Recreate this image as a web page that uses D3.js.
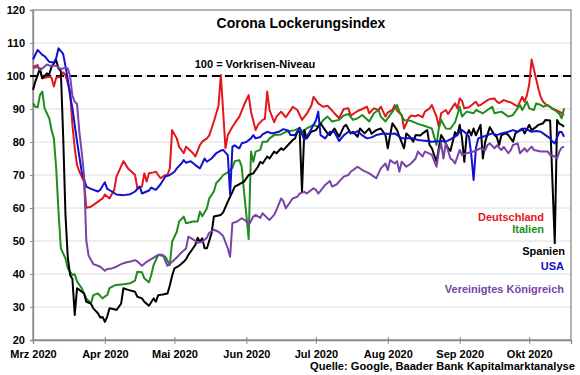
<!DOCTYPE html>
<html>
<head>
<meta charset="utf-8">
<script src="https://cdn.jsdelivr.net/npm/d3@7"></script>
<style>
body { margin: 0; background: #fff; }
svg { font-family: "Liberation Sans", Arial, sans-serif; font-weight: bold; }
</style>
</head>
<body>
<div id="main"></div>
<script>
// month labels shown under the x axis (one per month start)
const monthLabels = ["Mrz 2020", "Apr 2020", "Mai 2020", "Jun 2020", "Jul 2020", "Aug 2020", "Sep 2020", "Okt 2020"];
const yTicks = [20, 30, 40, 50, 60, 70, 80, 90, 100, 110, 120];
const preCrisisLevel = 100;

// daily index values (date "m/d" in 2020, value)
const deutschland = [["3/1",102.8],["3/3",103.3],["3/4",101.5],["3/5",99.3],["3/8",99.8],["3/9",99.5],["3/10",96.8],["3/11",99.5],["3/13",99.8],["3/14",101.1],["3/15",100.3],["3/17",95.3],["3/18",85.2],["3/19",78.1],["3/20",73],["3/21",71],["3/23",68],["3/24",60.1],["3/26",60.4],["3/28",61.4],["3/31",62.9],["4/1",64.1],["4/3",62.9],["4/5",65.5],["4/6",69.5],["4/9",74.2],["4/11",72],["4/14",70],["4/15",66],["4/17",66.5],["4/18",70.5],["4/19",68],["4/20",70.5],["4/22",70.8],["4/23",71],["4/25",69],["4/27",70],["4/28",70],["4/29",72],["4/30",83.6],["5/2",81.1],["5/3",78.6],["5/5",76.6],["5/6",78.6],["5/9",76.6],["5/10",75.6],["5/12",79.1],["5/13",80.1],["5/15",81.1],["5/16",82],["5/17",84.1],["5/18",86.2],["5/20",91],["5/21",100.3],["5/23",78.1],["5/24",82.1],["5/26",84.6],["5/27",85.7],["5/29",87.7],["5/31",91.2],["6/2",94.2],["6/3",89.2],["6/5",83.6],["6/6",85.2],["6/8",86.7],["6/9",87],["6/10",95.3],["6/11",89.7],["6/13",86],["6/14",87.7],["6/16",89.2],["6/18",87.5],["6/20",89.5],["6/21",90.7],["6/23",89.7],["6/25",86.7],["6/27",88.5],["6/29",91],["6/30",93.7],["7/2",91.7],["7/4",90.7],["7/6",91],["7/8",89.5],["7/9",88.7],["7/11",87.2],["7/13",90],["7/15",90.2],["7/16",88],["7/19",89.4],["7/21",90],["7/23",90.7],["7/24",88.7],["7/26",90.2],["7/28",89.7],["7/29",90.7],["7/31",87.7],["8/1",89],["8/3",89.7],["8/4",91.2],["8/5",89.5],["8/7",88.2],["8/8",84.1],["8/10",87.2],["8/11",88],["8/13",87.8],["8/14",88.2],["8/16",87.5],["8/17",89.2],["8/19",90.2],["8/20",91.2],["8/22",87.7],["8/23",84.6],["8/24",88.7],["8/26",89.7],["8/27",88.5],["8/29",90.7],["8/30",91.7],["8/31",90.2],["9/1",93.2],["9/2",92.5],["9/3",90.2],["9/5",90.5],["9/7",91.7],["9/8",92.2],["9/9",91],["9/10",91.2],["9/13",92.7],["9/14",93],["9/16",93.2],["9/17",92.2],["9/18",91.8],["9/20",92.7],["9/22",92.2],["9/23",92],["9/25",91.2],["9/26",90.7],["9/28",93.7],["9/29",92.2],["9/30",94.2],["10/1",97.5],["10/2",105],["10/3",102],["10/4",99],["10/5",96],["10/6",93.5],["10/7",92.2],["10/8",91.5],["10/9",91],["10/11",90.2],["10/13",89.5],["10/14",89.2],["10/16",88.2]];

const italien = [["3/1",91.7],["3/2",90.7],["3/3",90.5],["3/4",94.2],["3/5",95.3],["3/6",90.2],["3/8",87.2],["3/9",83.6],["3/10",81.1],["3/11",72],["3/12",58.9],["3/13",47.8],["3/15",44.7],["3/16",41.7],["3/18",39.7],["3/19",39.9],["3/20",37.7],["3/22",35.7],["3/24",32.6],["3/26",31.1],["3/27",33.6],["3/29",34.1],["3/31",32.6],["4/1",33.2],["4/2",33.6],["4/3",35.7],["4/5",36.5],["4/6",36.7],["4/9",36.9],["4/12",37.2],["4/14",38],["4/15",40.7],["4/17",40.5],["4/18",38.7],["4/20",37.5],["4/21",39.7],["4/22",42.7],["4/24",45.8],["4/27",45.3],["4/29",42.7],["4/30",49.8],["5/2",52.8],["5/3",55.9],["5/5",57.4],["5/6",55.4],["5/9",55.9],["5/11",55.9],["5/12",58.9],["5/13",57.5],["5/15",59.9],["5/16",62.9],["5/18",65],["5/19",67.5],["5/21",69],["5/22",70],["5/24",70.8],["5/26",72.2],["5/27",74.2],["5/29",74.5],["5/30",72.5],["5/31",65],["6/1",58],["6/2",50.6],["6/3",77.1],["6/4",74],["6/5",77.1],["6/7",77.6],["6/8",80.1],["6/10",80.1],["6/11",81.1],["6/13",82.1],["6/16",82.3],["6/18",83.1],["6/22",83.6],["6/24",84.3],["6/25",83],["6/27",84.1],["6/30",85.2],["7/2",84.6],["7/4",86.5],["7/6",87.7],["7/8",86.2],["7/11",86.7],["7/13",88],["7/15",88.5],["7/17",86.7],["7/19",87.2],["7/21",88.2],["7/24",86.2],["7/26",88.7],["7/28",89.7],["7/29",87.7],["7/31",86.2],["8/2",88.2],["8/3",89.2],["8/5",91.2],["8/6",89.2],["8/8",86.7],["8/11",86.4],["8/14",85.5],["8/18",84.6],["8/20",84.1],["8/22",79.1],["8/23",84.1],["8/24",86.7],["8/26",84.1],["8/28",84],["8/30",86],["8/31",88.2],["9/1",90.7],["9/2",87.7],["9/4",89.2],["9/7",88.7],["9/8",89.7],["9/11",88.7],["9/13",89.7],["9/15",90.7],["9/16",88.7],["9/19",89.2],["9/22",87.7],["9/24",88.2],["9/27",91.2],["9/28",89.7],["9/30",92.2],["10/1",90.2],["10/3",89.7],["10/4",91.7],["10/6",91.2],["10/7",90.7],["10/9",91.2],["10/11",90],["10/12",89.7],["10/14",88.5],["10/15",87.2],["10/16",90.2]];

const spanien = [["3/1",95.8],["3/2",98.3],["3/4",102.3],["3/5",99.3],["3/7",100.8],["3/8",100.5],["3/9",102.8],["3/11",104.8],["3/12",102.3],["3/13",101.5],["3/14",82],["3/15",58],["3/16",45],["3/17",39.7],["3/18",38.5],["3/19",27.6],["3/20",35.7],["3/21",35.2],["3/23",34.1],["3/24",31.6],["3/26",31],["3/27",29.6],["3/29",28.1],["3/30",26.8],["3/31",27],["4/1",25.5],["4/2",27.1],["4/3",29.6],["4/5",29.3],["4/6",29.1],["4/8",31],["4/9",35.7],["4/11",35.2],["4/14",34.6],["4/15",33.1],["4/17",32.6],["4/18",31.6],["4/20",30.4],["4/22",32.6],["4/23",31.6],["4/24",33.6],["4/26",33.8],["4/28",34.1],["4/29",36.5],["4/30",39.5],["5/1",41.7],["5/3",42.5],["5/5",43.7],["5/6",44.5],["5/7",45.8],["5/8",46.8],["5/9",47.8],["5/10",48.8],["5/11",51],["5/12",49.8],["5/13",50.8],["5/14",47.8],["5/15",47.8],["5/17",52.3],["5/18",57.4],["5/21",57.9],["5/22",58.7],["5/24",61.9],["5/26",64.9],["5/27",66.5],["5/29",67.2],["5/31",68],["6/2",70],["6/4",70.5],["6/6",72.5],["6/7",74],["6/8",73.5],["6/10",75.6],["6/11",75],["6/13",77.1],["6/14",76.6],["6/16",78.1],["6/17",77.6],["6/19",79.1],["6/21",80.6],["6/22",81.1],["6/23",83.1],["6/24",83.1],["6/25",65],["6/26",83.6],["6/27",81.1],["6/29",83.1],["7/1",83.6],["7/3",85.7],["7/4",84.6],["7/6",82.6],["7/7",82.1],["7/9",84.1],["7/11",81.6],["7/13",84.6],["7/14",85.2],["7/16",82.6],["7/17",83.1],["7/19",81.6],["7/20",84.1],["7/22",82.6],["7/24",84.1],["7/25",82.5],["7/27",83.6],["7/29",84.1],["7/31",82.1],["8/1",78.1],["8/2",82.1],["8/3",85.7],["8/5",83.6],["8/6",81.6],["8/8",78.1],["8/9",82.6],["8/10",82],["8/12",80.1],["8/13",82.1],["8/15",82],["8/16",82.6],["8/18",83.6],["8/19",79.1],["8/20",78.1],["8/22",74],["8/23",78.1],["8/24",82.1],["8/25",81],["8/27",78.1],["8/28",77.3],["8/30",83],["8/31",82],["9/1",85.2],["9/2",81.1],["9/3",74],["9/4",82.1],["9/5",83.6],["9/6",82],["9/7",84.1],["9/8",82],["9/10",85.2],["9/11",75],["9/12",80.1],["9/14",84.5],["9/16",82.1],["9/17",81.5],["9/18",79.1],["9/19",82.1],["9/21",82.6],["9/22",82.1],["9/24",80.1],["9/25",82.6],["9/26",83.1],["9/28",84.1],["9/29",82.6],["10/1",85.2],["10/2",83.6],["10/4",84.6],["10/5",85.2],["10/7",85.7],["10/8",86.7],["10/10",86.5],["10/12",49.3],["10/13",86.7],["10/14",85.5],["10/15",85.2],["10/16",84.6]];

const usa = [["3/1",105],["3/3",107.9],["3/5",106.4],["3/6",106],["3/8",104.3],["3/10",104],["3/11",105.4],["3/12",108.4],["3/14",106.7],["3/15",103],["3/16",99],["3/17",94],["3/18",90.2],["3/20",80.1],["3/22",71],["3/24",66.5],["3/26",65.8],["3/29",65],["3/30",65.5],["4/1",67.8],["4/2",65.8],["4/4",65],["4/6",64.1],["4/9",63.9],["4/12",64.2],["4/14",65],["4/16",66.5],["4/17",64.4],["4/20",65.3],["4/21",66.2],["4/23",65.5],["4/25",67.2],["4/27",69.5],["4/29",70],["5/1",71],["5/2",72],["5/4",73.5],["5/5",74.5],["5/6",73.7],["5/8",74.2],["5/10",73],["5/12",72],["5/14",75],["5/15",74],["5/17",75],["5/19",76.6],["5/21",77.4],["5/22",77.6],["5/24",76],["5/25",64.1],["5/26",78.6],["5/27",79],["5/28",78.4],["5/29",78.1],["5/30",79.6],["6/1",80],["6/3",81.1],["6/4",82.1],["6/5",81.1],["6/7",81.5],["6/8",82.3],["6/10",83.1],["6/12",82.6],["6/15",83.1],["6/17",83.9],["6/19",83.5],["6/20",82.1],["6/22",82.1],["6/24",84.3],["6/26",80.6],["6/28",82.6],["6/30",85.2],["7/1",86.5],["7/2",89.2],["7/3",82.1],["7/5",81.1],["7/7",83.1],["7/9",83],["7/11",80.3],["7/13",82],["7/15",83.1],["7/17",82.6],["7/19",83.3],["7/21",82],["7/23",81.1],["7/25",81.4],["7/27",82.1],["7/30",82.6],["8/2",82.4],["8/4",82.6],["8/7",81.1],["8/10",81.1],["8/12",81.1],["8/14",80.6],["8/18",80.3],["8/20",80.1],["8/24",80.3],["8/26",80.1],["8/28",80.8],["8/30",81.6],["9/1",83.1],["9/2",83.6],["9/4",82.5],["9/5",81.6],["9/6",76.1],["9/7",68.5],["9/8",78.1],["9/9",81.1],["9/11",81.6],["9/13",82.1],["9/15",82.6],["9/17",82.1],["9/19",82.6],["9/22",83.1],["9/24",83.6],["9/26",83.1],["9/29",84.1],["10/2",83.1],["10/4",83.3],["10/6",83.1],["10/8",82.1],["10/10",81.1],["10/11",80.1],["10/12",79.6],["10/14",83.1],["10/15",83],["10/16",81.6]];

const vereinigtesKoenigreich = [["3/1",102.3],["3/3",102.8],["3/4",101.8],["3/5",102.3],["3/7",103.5],["3/8",103.2],["3/11",103.1],["3/13",102.1],["3/15",102.5],["3/16",102.3],["3/17",100],["3/18",94],["3/19",92.2],["3/20",91.5],["3/21",83],["3/22",77],["3/23",70],["3/24",50],["3/25",45.5],["3/27",43],["3/29",42.5],["3/30",42.2],["4/1",41],["4/2",41.5],["4/4",41.7],["4/6",42.2],["4/8",43],["4/10",43.5],["4/12",43.8],["4/14",44.2],["4/15",43.8],["4/17",42.5],["4/19",43.7],["4/21",44.5],["4/24",45.8],["4/26",45.8],["4/28",42.5],["4/30",43.7],["5/2",45],["5/4",46.5],["5/6",47.7],["5/7",51.3],["5/9",50.5],["5/11",49.5],["5/13",49.8],["5/15",51],["5/16",52.5],["5/18",53.4],["5/20",52.8],["5/22",51.5],["5/24",47.8],["5/25",45.2],["5/26",55.4],["5/28",55.9],["5/30",56.9],["6/1",56],["6/2",54.8],["6/4",57.4],["6/5",57.9],["6/7",57],["6/8",58.4],["6/10",57],["6/11",56.4],["6/13",57.9],["6/14",59.4],["6/16",62.9],["6/17",62],["6/18",59.9],["6/20",61.9],["6/21",62.9],["6/23",63.4],["6/24",64.4],["6/26",64.9],["6/27",64.4],["6/28",64.9],["6/30",66],["7/1",65.5],["7/2",64.4],["7/3",65.2],["7/5",67],["7/7",68.2],["7/8",66.5],["7/10",67.2],["7/11",68],["7/13",69.5],["7/15",70],["7/16",71],["7/18",72],["7/19",72.5],["7/21",71.5],["7/24",70.5],["7/26",69.5],["7/27",69],["7/29",72],["7/31",73.5],["8/1",71.5],["8/2",74.5],["8/4",73.5],["8/5",74.2],["8/6",71],["8/7",74],["8/9",72.5],["8/11",73.5],["8/13",75],["8/14",77.1],["8/16",75.6],["8/17",77.1],["8/19",76.5],["8/20",76.1],["8/22",72.5],["8/23",77.1],["8/24",79.6],["8/25",75],["8/26",79.6],["8/28",75],["8/29",74.5],["8/30",73.5],["9/1",77.6],["9/2",76.1],["9/4",76.6],["9/7",77.1],["9/10",78.1],["9/12",77.5],["9/13",79.1],["9/14",79.6],["9/16",78.1],["9/17",79],["9/19",77.6],["9/20",78.5],["9/22",76.6],["9/23",77.5],["9/24",79.1],["9/26",79.6],["9/27",76.6],["9/29",78.1],["9/30",77.1],["10/2",78.6],["10/3",77.6],["10/6",77.1],["10/9",77.1],["10/10",76.1],["10/12",75.6],["10/13",75],["10/14",77.1],["10/15",78.3],["10/16",78.6]];

const seriesNames = ["Deutschland", "Italien", "Spanien", "USA", "Vereinigtes Königreich"];
const seriesColors = ["#e3161b", "#1e8c1e", "#000000", "#1010d0", "#7a43a8"];

const ctx = {
    w: 580,
    h: 375,
    left: 33,
    right: 571,
    top: 10,
    bottom: 340
};

const parseDay = d3.timeParse("%m/%d/%Y");
function toDate(s) { return parseDay(s + "/2020"); }

function createViz() {
    let svgEl = d3.select("#main").append("svg")
        .attr("width", ctx.w)
        .attr("height", ctx.h);
    svgEl.append("rect").attr("width", ctx.w).attr("height", ctx.h).attr("fill", "#fff");

    let xScale = d3.scaleTime()
        .domain([toDate("3/1"), toDate("10/19")])
        .range([ctx.left, ctx.right]);
    let yScale = d3.scaleLinear()
        .domain([20, 120])
        .range([ctx.bottom, ctx.top]);

    // horizontal grid lines
    svgEl.append("g").selectAll("line")
        .data(yTicks.filter((t) => t > 20 && t < 120))
        .enter()
        .append("line")
        .attr("x1", ctx.left)
        .attr("x2", ctx.right)
        .attr("y1", (d) => yScale(d))
        .attr("y2", (d) => yScale(d))
        .attr("stroke", "#dcdcdc")
        .attr("stroke-width", 1);

    // plot frame
    svgEl.append("rect")
        .attr("x", ctx.left)
        .attr("y", ctx.top)
        .attr("width", ctx.right - ctx.left)
        .attr("height", ctx.bottom - ctx.top)
        .attr("fill", "none")
        .attr("stroke", "#8a8a8a")
        .attr("stroke-width", 1.3);

    // y axis
    let yAxis = d3.axisLeft(yScale).tickValues(yTicks).tickSize(3).tickPadding(5);
    let yG = svgEl.append("g")
        .attr("transform", `translate(${ctx.left},0)`)
        .call(yAxis);
    yG.select(".domain").attr("stroke", "#8a8a8a").attr("stroke-width", 1.3);
    yG.selectAll(".tick line").attr("stroke", "#8a8a8a");
    yG.selectAll("text")
        .attr("font-size", 11)
        .attr("font-weight", "bold")
        .attr("font-family", "Liberation Sans, Arial, sans-serif")
        .attr("fill", "#000");

    // x axis, one tick per month start
    let monthStarts = monthLabels.map((d, i) => new Date(2020, 2 + i, 1));
    let xAxis = d3.axisBottom(xScale)
        .tickValues(monthStarts)
        .tickFormat((d, i) => monthLabels[i])
        .tickSize(4)
        .tickPadding(6);
    let xG = svgEl.append("g")
        .attr("transform", `translate(0,${ctx.bottom})`)
        .call(xAxis);
    xG.select(".domain").attr("stroke", "#8a8a8a").attr("stroke-width", 1.3);
    xG.selectAll(".tick line").attr("stroke", "#8a8a8a").attr("y1", -3);
    xG.selectAll("text")
        .attr("font-size", 11)
        .attr("font-weight", "bold")
        .attr("font-family", "Liberation Sans, Arial, sans-serif")
        .attr("fill", "#000");

    // dashed pre-crisis reference line
    svgEl.append("line")
        .attr("x1", ctx.left - 3)
        .attr("x2", ctx.right + 2)
        .attr("y1", yScale(preCrisisLevel))
        .attr("y2", yScale(preCrisisLevel))
        .attr("stroke", "#000")
        .attr("stroke-width", 2)
        .attr("stroke-dasharray", "8,5");

    // the five country lines
    let allSeries = [deutschland, italien, spanien, usa, vereinigtesKoenigreich];
    let line = d3.line()
        .x((d) => xScale(toDate(d[0])))
        .y((d) => yScale(d[1]));
    let linesG = svgEl.append("g").attr("id", "linesG");
    allSeries.forEach((s, i) => {
        linesG.append("path")
            .datum(s)
            .attr("fill", "none")
            .attr("stroke", seriesColors[i])
            .attr("stroke-width", 2)
            .attr("stroke-linejoin", "round")
            .attr("d", line);
    });

    // title and annotation
    svgEl.append("text")
        .attr("x", 301)
        .attr("y", 28)
        .attr("text-anchor", "middle")
        .attr("font-size", 14)
        .text("Corona Lockerungsindex");
    svgEl.append("text")
        .attr("x", 255)
        .attr("y", 68)
        .attr("text-anchor", "middle")
        .attr("font-size", 11)
        .text(`${preCrisisLevel} = Vorkrisen-Niveau`);

    // legend labels, right aligned, in the series colours
    let legendPos = [[544, 220.5], [544, 233], [565, 254.5], [564, 270], [564, 292.5]];
    svgEl.append("g").selectAll("text")
        .data(seriesNames)
        .enter()
        .append("text")
        .attr("x", (d, i) => legendPos[i][0])
        .attr("y", (d, i) => legendPos[i][1])
        .attr("text-anchor", "end")
        .attr("font-size", 11)
        .attr("fill", (d, i) => seriesColors[i])
        .text((d) => d);

    // source line
    svgEl.append("text")
        .attr("x", 575)
        .attr("y", 370)
        .attr("text-anchor", "end")
        .attr("font-size", 11)
        .attr("textLength", 265)
        .attr("lengthAdjust", "spacingAndGlyphs")
        .text("Quelle: Google, Baader Bank Kapitalmarktanalyse");
}

createViz();
</script>
</body>
</html>
